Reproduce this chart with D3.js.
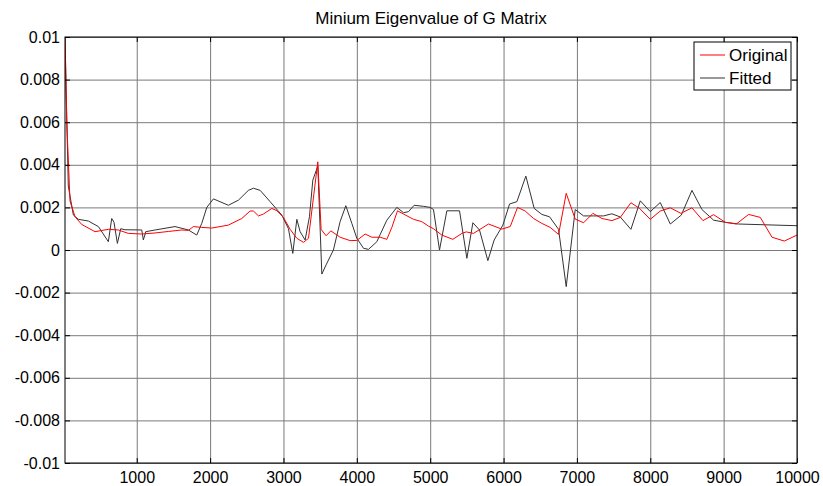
<!DOCTYPE html>
<html>
<head>
<meta charset="utf-8">
<script src="https://cdn.jsdelivr.net/npm/d3@7"></script>
<style>
    body { margin: 0; background: #fff; }
    text { font-family: "Liberation Sans", Arial, sans-serif; fill: #000; }
    .tick text { font-size: 16px; }
    .domain { display: none; }
    .grid line { stroke: #7a7a7a; stroke-width: 1; }
    .ticks line { stroke: #000; }
</style>
</head>
<body>
<svg id="chart" width="823" height="486"></svg>
<script>
// "Original" series (red)
let origX = [22, 45, 90, 159, 250, 431, 613, 749, 885, 1068, 1250, 1431, 1614, 1704, 1772, 1886, 2023, 2249, 2432, 2545, 2591, 2659, 2727, 2841, 2909, 3000, 3091, 3182, 3272, 3341, 3468, 3513, 3581, 3645, 3772, 3909, 4000, 4113, 4204, 4318, 4409, 4477, 4554, 4636, 4772, 4886, 4977, 5045, 5159, 5309, 5432, 5491, 5591, 5795, 5977, 6091, 6191, 6295, 6409, 6522, 6636, 6750, 6854, 6977, 7091, 7218, 7341, 7477, 7591, 7736, 7855, 8000, 8136, 8273, 8418, 8568, 8718, 8863, 9023, 9173, 9341, 9500, 9659, 9827, 10000];
let origY = [0.01, 0.0061, 0.0023, 0.00156, 0.0012, 0.00086, 0.00097, 0.00094, 0.00078, 0.00075, 0.0008, 0.00087, 0.00094, 0.00092, 0.0011, 0.00106, 0.00103, 0.00117, 0.00148, 0.00183, 0.00183, 0.0016, 0.00169, 0.00195, 0.00185, 0.00153, 0.00097, 0.00055, 0.00036, 0.00055, 0.00414, 0.00097, 0.00067, 0.0009, 0.0006, 0.00044, 0.00045, 0.00075, 0.0006, 0.0006, 0.0005, 0.00106, 0.00184, 0.00169, 0.00144, 0.00133, 0.00112, 0.001, 0.0007, 0.0005, 0.00078, 0.00085, 0.00078, 0.00122, 0.00098, 0.0011, 0.002, 0.00183, 0.00148, 0.00125, 0.00106, 0.00073, 0.00266, 0.00145, 0.00128, 0.00172, 0.00148, 0.00138, 0.00153, 0.00222, 0.00195, 0.00144, 0.00183, 0.00198, 0.00172, 0.00198, 0.00138, 0.00166, 0.0013, 0.00122, 0.00167, 0.00153, 0.0006, 0.00042, 0.0007];

// "Fitted" series (black)
let fitX = [22, 67, 136, 204, 340, 477, 613, 659, 690, 736, 782, 840, 1068, 1090, 1123, 1250, 1522, 1704, 1818, 1886, 1955, 2045, 2249, 2386, 2522, 2591, 2682, 2818, 2977, 3068, 3127, 3182, 3227, 3295, 3354, 3400, 3468, 3523, 3581, 3681, 3772, 3850, 3932, 4000, 4091, 4159, 4273, 4409, 4545, 4636, 4704, 4781, 4909, 5000, 5045, 5127, 5227, 5400, 5500, 5582, 5672, 5786, 5872, 5991, 6082, 6182, 6304, 6418, 6522, 6627, 6750, 6854, 6977, 7091, 7227, 7363, 7477, 7591, 7736, 7864, 8000, 8136, 8273, 8423, 8568, 8704, 8863, 9023, 9200, 10000];
let fitY = [0.01, 0.003, 0.00164, 0.00144, 0.00136, 0.0011, 0.00039, 0.00148, 0.0013, 0.00031, 0.001, 0.00095, 0.00094, 0.00047, 0.00086, 0.00094, 0.0011, 0.00094, 0.0007, 0.00125, 0.002, 0.0024, 0.0021, 0.00234, 0.0028, 0.0029, 0.0028, 0.00227, 0.00164, 0.001, -0.00016, 0.00144, 0.00086, 0.00047, 0.00156, 0.00328, 0.00394, -0.00113, -0.0007, 0, 0.00133, 0.00208, 0.00125, 0.00055, 0.00008, 0.00003, 0.00039, 0.0014, 0.002, 0.00175, 0.0018, 0.0021, 0.00205, 0.002, 0.0019, 0, 0.00184, 0.00184, -0.00039, 0.00128, 0.00094, -0.0005, 0.00047, 0.00117, 0.00216, 0.00227, 0.00347, 0.00195, 0.00167, 0.00156, 0.00097, -0.00172, 0.0019, 0.0016, 0.0016, 0.0016, 0.0017, 0.00155, 0.00097, 0.00231, 0.0018, 0.00223, 0.00122, 0.00164, 0.0028, 0.0019, 0.0014, 0.0013, 0.00122, 0.00114];

let xTicks = [1000, 2000, 3000, 4000, 5000, 6000, 7000, 8000, 9000, 10000];
let yTicks = [-0.01, -0.008, -0.006, -0.004, -0.002, 0, 0.002, 0.004, 0.006, 0.008, 0.01];
let seriesNames = ["Original", "Fitted"];
let seriesColors = ["#ff0000", "#333333"];
let title = "Minium Eigenvalue of G Matrix";

let svg = d3.select("#chart");
let margin = {left: 65, right: 26, top: 37, bottom: 23};
let width = 823 - margin.left - margin.right;
let height = 486 - margin.top - margin.bottom;

let g = svg.append("g").attr("transform", `translate(${margin.left},${margin.top})`);

let x = d3.scaleLinear().domain([22, 10000]).range([0, width]);
let y = d3.scaleLinear().domain([-0.01, 0.01]).range([height, 0]);

// grid
g.append("g").attr("class", "grid")
    .attr("transform", `translate(0,${height})`)
    .call(d3.axisBottom(x).tickValues(xTicks).tickSize(-height).tickFormat(""));
g.append("g").attr("class", "grid")
    .call(d3.axisLeft(y).tickValues(yTicks).tickSize(-width).tickFormat(""));

// lines
svg.append("clipPath").attr("id", "clip")
    .append("rect").attr("width", width).attr("height", height);

let line = d3.line().x(d => x(d[0])).y(d => y(d[1]));
let series = [
    d3.zip(origX, origY),
    d3.zip(fitX, fitY)
];
// fitted drawn first so the red sits on top where they overlap
[1, 0].forEach(i => {
    g.append("path")
        .datum(series[i])
        .attr("clip-path", "url(#clip)")
        .attr("fill", "none")
        .attr("stroke", seriesColors[i])
        .attr("stroke-width", 1)
        .attr("d", line);
});

// inward tick marks on all sides + labels
let fmt = v => String(+v.toFixed(3));
g.append("g").attr("class", "ticks")
    .attr("transform", `translate(0,${height})`)
    .call(d3.axisBottom(x).tickValues(xTicks).tickSize(-5).tickPadding(9).tickFormat(d3.format("d")));
g.append("g").attr("class", "ticks")
    .call(d3.axisTop(x).tickValues(xTicks).tickSize(-5).tickFormat(""));
g.append("g").attr("class", "ticks")
    .call(d3.axisLeft(y).tickValues(yTicks).tickSize(-5).tickPadding(5).tickFormat(fmt));
g.append("g").attr("class", "ticks")
    .attr("transform", `translate(${width},0)`)
    .call(d3.axisRight(y).tickValues(yTicks).tickSize(-5).tickFormat(""));

g.append("rect")
    .attr("width", width).attr("height", height)
    .attr("fill", "none").attr("stroke", "#000").attr("stroke-width", 1);

// title
svg.append("text")
    .attr("x", margin.left + width / 2)
    .attr("y", 24)
    .attr("text-anchor", "middle")
    .style("font-size", "17px")
    .text(title);

// legend
let legend = g.append("g").attr("transform", `translate(${width - 103},5)`);
legend.append("rect")
    .attr("width", 97).attr("height", 48)
    .attr("fill", "#fff").attr("stroke", "#000");
seriesNames.forEach((name, i) => {
    let row = legend.append("g").attr("transform", `translate(0,${13 + i * 23})`);
    row.append("line")
        .attr("x1", 6).attr("x2", 31)
        .attr("stroke", seriesColors[i]);
    row.append("text")
        .attr("x", 35).attr("dy", "0.35em")
        .style("font-size", "17px")
        .text(name);
});
</script>
</body>
</html>
